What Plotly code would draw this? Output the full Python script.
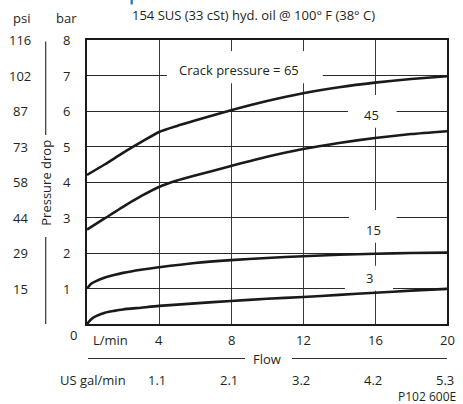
import plotly.graph_objects as go

# ---- data ----
flow_65 = [0, 1, 2, 3, 4, 5, 6, 8, 10, 12, 14, 16, 18, 20]
dp_65 = [4.20, 4.50, 4.82, 5.12, 5.41, 5.58, 5.73, 6.02, 6.28, 6.50, 6.67, 6.80, 6.90, 6.98]
flow_45 = [0, 1, 2, 3, 4, 5, 6, 8, 10, 12, 14, 16, 18, 20]
dp_45 = [2.66, 2.98, 3.30, 3.60, 3.86, 4.04, 4.18, 4.45, 4.71, 4.93, 5.10, 5.24, 5.35, 5.43]
flow_15 = [0, 0.25, 0.5, 1, 1.5, 2, 3, 4, 6, 8, 10, 12, 14, 16, 18, 20]
dp_15 = [1.00, 1.14, 1.21, 1.31, 1.38, 1.44, 1.53, 1.60, 1.72, 1.80, 1.86, 1.91, 1.95, 1.98, 2.00, 2.01]
flow_3 = [0, 0.25, 0.5, 1, 1.5, 2, 3, 4, 6, 8, 10, 12, 14, 16, 18, 20]
dp_3 = [0.00, 0.14, 0.22, 0.32, 0.37, 0.41, 0.46, 0.51, 0.58, 0.65, 0.71, 0.76, 0.82, 0.88, 0.94, 0.99]

bar_ticks = [1, 2, 3, 4, 5, 6, 7, 8]
psi_labels = ["15", "29", "44", "58", "73", "87", "102", "116"]
lmin_ticks = [4, 8, 12, 16, 20]
gal_labels = ["1.1", "2.1", "3.2", "4.2", "5.3"]

curve_labels = ["Crack pressure = 65", "45", "15", "3"]
label_x = [8.44, 15.8, 15.9, 15.7]
label_y = [7.15, 5.90, 2.64, 1.31]

W, H = 463, 404
L, R, T, B = 87, 16, 40, 80
PW, PH = W - L - R, H - T - B
FONT = "Open Sans"
TXT = "#231f20"


def px_x(p):
    return (p - L) / PW


def px_y(p):
    return (H - B - p) / PH


def text(t, x, y, xref="paper", yref="paper", size=13, xanchor="center", angle=0, pad=1):
    return dict(text=t, x=x, y=y, xref=xref, yref=yref, showarrow=False,
                xanchor=xanchor, yanchor="middle", textangle=angle, borderpad=pad,
                font=dict(size=size, color=TXT, family=FONT))


fig = go.Figure()
for xs, ys in [(flow_65, dp_65), (flow_45, dp_45), (flow_15, dp_15), (flow_3, dp_3)]:
    fig.add_trace(go.Scatter(x=xs, y=ys, mode="lines",
                             line=dict(color="#1a1a1a", width=2.6, shape="spline", smoothing=0.6),
                             hoverinfo="skip", showlegend=False))

ann = []
shapes = []

# label boxes (white, cover gridlines)
boxes = [(4.44, 13.1, 6.78, 7.69), (14.5, 17.2, 5.53, 6.45), (14.55, 17.2, 2.29, 3.21), (14.33, 17.0, 0.94, 1.64)]
for x0, x1, y0, y1 in boxes:
    shapes.append(dict(type="rect", xref="x", yref="y", x0=x0, x1=x1, y0=y0, y1=y1,
                       fillcolor="white", line=dict(width=0), layer="between"))
for t, x, y in zip(curve_labels, label_x, label_y):
    ann.append(text(t, x, y, "x", "y"))

# left axis labels
for v, p in zip(bar_ticks, psi_labels):
    ann.append(text(str(v), px_x(66.5), v, "paper", "y"))
    ann.append(text(p, px_x(20), v, "paper", "y"))
ann.append(text("0", px_x(73), px_y(335)))
ann.append(text("psi", px_x(21), px_y(18)))
ann.append(text("bar", px_x(66), px_y(18)))
ann.append(text("Pressure drop", px_x(45.7), px_y(183), angle=-90))
shapes.append(dict(type="line", xref="paper", yref="paper", x0=px_x(45.7), x1=px_x(45.7),
                   y0=px_y(41.5), y1=px_y(135), line=dict(color="#333", width=1.2)))
shapes.append(dict(type="line", xref="paper", yref="paper", x0=px_x(45.7), x1=px_x(45.7),
                   y0=px_y(237), y1=px_y(324), line=dict(color="#333", width=1.2)))

# bottom labels
ann.append(text("L/min", px_x(110), px_y(340)))
for v, g in zip(lmin_ticks, gal_labels):
    ann.append(text(str(v), v, px_y(340), "x", "paper"))
    ann.append(text(g, v - 0.1, px_y(379.5), "x", "paper", pad=0))
ann.append(text("Flow", px_x(267), px_y(359)))
shapes.append(dict(type="line", xref="paper", yref="paper", x0=px_x(88), x1=px_x(245),
                   y0=px_y(358.5), y1=px_y(358.5), line=dict(color="#333", width=1.2)))
shapes.append(dict(type="line", xref="paper", yref="paper", x0=px_x(292), x1=px_x(447),
                   y0=px_y(358.5), y1=px_y(358.5), line=dict(color="#333", width=1.2)))
ann.append(text("US gal/min", px_x(93), px_y(379.5), pad=0))
ann.append(text("P102 600E", px_x(457), px_y(396), size=12, xanchor="right", pad=0))

# title
ann.append(text("154 SUS (33 cSt) hyd. oil @ 100° F (38° C)", px_x(253), px_y(15)))
# cut-off blue heading remnant
shapes.append(dict(type="line", xref="paper", yref="paper", x0=px_x(131.7), x1=px_x(131.7),
                   y0=px_y(0), y1=px_y(4.5), line=dict(color="#2a6ebb", width=2.2)))

fig.update_layout(
    width=W, height=H,
    margin=dict(l=L, r=R, t=T, b=B, pad=0),
    paper_bgcolor="white", plot_bgcolor="white",
    xaxis=dict(range=[0, 20], tickvals=[4, 8, 12, 16], showticklabels=False, ticks="",
               showgrid=True, gridcolor="#3a3a3a", gridwidth=1, zeroline=False,
               showline=True, linecolor="#1a1a1a", linewidth=1.5, mirror=True, fixedrange=True),
    yaxis=dict(range=[0, 8], tickvals=[1, 2, 3, 4, 5, 6, 7], showticklabels=False, ticks="",
               showgrid=True, gridcolor="#2a2a2a", gridwidth=1, zeroline=False,
               showline=True, linecolor="#1a1a1a", linewidth=1.5, mirror=True, fixedrange=True),
    annotations=ann, shapes=shapes, showlegend=False,
)

fig.write_html("out.html", config={"displayModeBar": False},
               post_script="document.body.style.margin='0';document.body.style.padding='0';")
